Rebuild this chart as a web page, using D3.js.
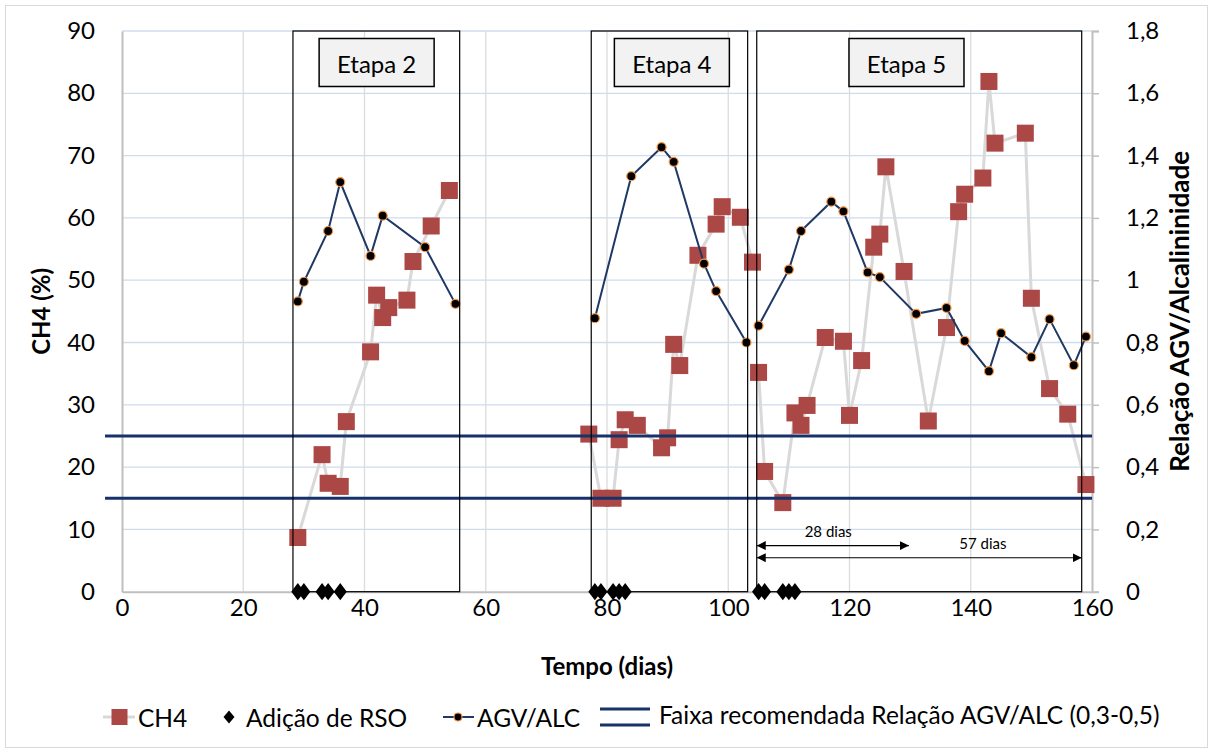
<!DOCTYPE html>
<html>
<head>
<meta charset="utf-8">
<script src="https://cdn.jsdelivr.net/npm/d3@7"></script>
<style>
  body { margin: 0; background: #fff; }
  svg { display: block; }
  text { font-family: Lato, "Open Sans", sans-serif; fill: #000; }
</style>
</head>
<body>
<svg id="chart" width="1213" height="753"></svg>
<script>
// CH4 (%) per stage: day of operation and measured methane content
const ch4Stage2Days = [29, 33, 34, 36, 37, 41, 42, 43, 44, 47, 48, 51, 54];
const ch4Stage2Values = [8.7, 22.0, 17.4, 16.9, 27.3, 38.5, 47.6, 44.0, 45.6, 46.8, 53.0, 58.7, 64.4];
const ch4Stage4Days = [77, 79, 81, 82, 83, 85, 89, 90, 91, 92, 95, 98, 99, 102, 104];
const ch4Stage4Values = [25.3, 15.0, 15.0, 24.4, 27.6, 26.7, 23.1, 24.7, 39.7, 36.3, 54.0, 59.0, 61.8, 60.1, 52.9];
const ch4Stage5Days = [105, 106, 109, 111, 112, 113, 116, 119, 120, 122, 124, 125, 126, 129, 133, 136, 138, 139, 142, 143, 144, 149, 150, 153, 156, 159];
const ch4Stage5Values = [35.2, 19.3, 14.3, 28.7, 26.7, 29.9, 40.8, 40.2, 28.3, 37.1, 55.3, 57.4, 68.2, 51.4, 27.4, 42.4, 61.0, 63.8, 66.4, 81.9, 72.0, 73.6, 47.1, 32.6, 28.5, 17.2];

// AGV/ALC ratio per stage
const agvStage2Days = [29, 30, 34, 36, 41, 43, 50, 55];
const agvStage2Values = [0.932, 0.995, 1.158, 1.315, 1.078, 1.207, 1.106, 0.924];
const agvStage4Days = [78, 84, 89, 91, 96, 98, 103];
const agvStage4Values = [0.878, 1.334, 1.427, 1.380, 1.053, 0.965, 0.800];
const agvStage5Days = [105, 110, 112, 117, 119, 123, 125, 131, 136, 139, 143, 145, 150, 153, 157, 159];
const agvStage5Values = [0.854, 1.034, 1.158, 1.252, 1.221, 1.025, 1.010, 0.892, 0.911, 0.805, 0.708, 0.830, 0.753, 0.875, 0.727, 0.819];

// Days on which solid waste (RSO) was added
const rsoDays = [29, 30, 33, 34, 36, 78, 79, 81, 82, 83, 105, 106, 109, 110, 111];

// Recommended AGV/ALC band
const faixaLimits = [0.3, 0.5];
const faixaDays = [-2.8, 160];

// Stages: name, day range, label centre (days)
const stageNames = ["Etapa 2", "Etapa 4", "Etapa 5"];
const stageStart = [28.2, 77.4, 104.7];
const stageEnd = [55.7, 103.2, 158.3];
const stageLabelAt = [42.0, 90.7, 129.4];

// Duration annotations in stage 5
const spanLabels = ["28 dias", "57 dias"];
const spanFrom = [104.7, 104.7];
const spanTo = [129.8, 158.3];
const spanLevel = [7.4, 5.45];   // CH4 units
const spanLabelAt = [116.5, 142.0];

// Axis ticks
const xTicks = [0, 20, 40, 60, 80, 100, 120, 140, 160];
const yLeftTicks = [0, 10, 20, 30, 40, 50, 60, 70, 80, 90];
const yRightTicks = [0, 0.2, 0.4, 0.6, 0.8, 1, 1.2, 1.4, 1.6, 1.8];

const C = {
  ch4: "#ab4845",
  ch4Line: "#d9d9d9",
  agv: "#1f3864",
  agvEdge: "#f79646",
  faixa: "#17326b",
  gridH: "#cfdcec",
  gridV: "#dcdcdc",
  axis: "#bfbfbf"
};

const svg = d3.select("#chart");
const W = 1213, H = 753;
const plot = { left: 122, right: 1092, top: 31, bottom: 591.7 };

const x = d3.scaleLinear().domain([0, 160]).range([plot.left, plot.right]);
const yL = d3.scaleLinear().domain([0, 90]).range([plot.bottom, plot.top]);
const yR = d3.scaleLinear().domain([0, 1.8]).range([plot.bottom, plot.top]);

// chart frame
svg.append("rect").attr("x", 5.5).attr("y", 5.5).attr("width", W - 11).attr("height", H - 11)
  .attr("fill", "#fff").attr("stroke", "#d9d9d9");

// gridlines
svg.append("g").selectAll("line").data(yLeftTicks.filter(d => d > 0)).join("line")
  .attr("x1", plot.left).attr("x2", plot.right)
  .attr("y1", d => yL(d)).attr("y2", d => yL(d))
  .attr("stroke", C.gridH).attr("stroke-width", 1.3);
svg.append("g").selectAll("line").data(xTicks.filter(d => d > 0 && d < 160)).join("line")
  .attr("x1", d => x(d)).attr("x2", d => x(d))
  .attr("y1", plot.top).attr("y2", plot.bottom)
  .attr("stroke", C.gridV).attr("stroke-width", 1.3);

// axes
const fmtComma = d => String(+d.toFixed(1)).replace(".", ",");
const tickFont = 24;

const axL = svg.append("g").attr("transform", `translate(${plot.left},0)`)
  .call(d3.axisLeft(yL).tickValues(yLeftTicks).tickSize(0).tickPadding(27).tickFormat(d3.format("d")));
const axB = svg.append("g").attr("transform", `translate(0,${plot.bottom})`)
  .call(d3.axisBottom(x).tickValues(xTicks).tickSize(0).tickPadding(7).tickFormat(d3.format("d")));
const axR = svg.append("g").attr("transform", `translate(${plot.right},0)`)
  .call(d3.axisRight(yR).tickValues(yRightTicks).tickSize(7).tickPadding(27).tickFormat(fmtComma));

[axL, axB, axR].forEach(g => {
  g.select(".domain").attr("stroke", C.axis).attr("stroke-width", 2);
  g.selectAll(".tick line").attr("stroke", C.axis).attr("stroke-width", 1.5);
  g.selectAll(".tick text").attr("font-size", tickFont).attr("font-family", "Lato, 'Open Sans', sans-serif").attr("fill", "#000");
});

// axis titles
svg.append("text").attr("transform", `translate(40,${(plot.top + plot.bottom) / 2}) rotate(-90)`)
  .attr("text-anchor", "middle").attr("dominant-baseline", "central")
  .attr("font-size", 24).attr("font-weight", 700).text("CH4 (%)");
svg.append("text").attr("transform", `translate(1179,${(plot.top + plot.bottom) / 2}) rotate(-90)`)
  .attr("text-anchor", "middle").attr("dominant-baseline", "central")
  .attr("font-size", 26).attr("font-weight", 700).text("Relação AGV/Alcalininidade");
svg.append("text").attr("x", (plot.left + plot.right) / 2).attr("y", 665)
  .attr("text-anchor", "middle").attr("dominant-baseline", "central")
  .attr("font-size", 24).attr("font-weight", 700).text("Tempo (dias)");

// CH4 series
const ch4Groups = [
  d3.zip(ch4Stage2Days, ch4Stage2Values),
  d3.zip(ch4Stage4Days, ch4Stage4Values),
  d3.zip(ch4Stage5Days, ch4Stage5Values)
];
const lineL = d3.line().x(d => x(d[0])).y(d => yL(d[1]));
const gCh4 = svg.append("g");
ch4Groups.forEach(grp => {
  gCh4.append("path").attr("d", lineL(grp)).attr("fill", "none")
    .attr("stroke", C.ch4Line).attr("stroke-width", 3);
});
const sq = 17;
gCh4.selectAll("rect").data(ch4Groups.flat()).join("rect")
  .attr("x", d => x(d[0]) - sq / 2).attr("y", d => yL(d[1]) - sq / 2)
  .attr("width", sq).attr("height", sq).attr("fill", C.ch4);

// RSO additions
const diamond = d3.symbol().type(d3.symbolDiamond).size(95);
svg.append("g").selectAll("path").data(rsoDays).join("path")
  .attr("transform", d => `translate(${x(d)},${yL(0)}) scale(1.25,0.95)`)
  .attr("d", diamond).attr("fill", "#000");

// AGV/ALC series
const agvGroups = [
  d3.zip(agvStage2Days, agvStage2Values),
  d3.zip(agvStage4Days, agvStage4Values),
  d3.zip(agvStage5Days, agvStage5Values)
];
const lineR = d3.line().x(d => x(d[0])).y(d => yR(d[1]));
const gAgv = svg.append("g");
agvGroups.forEach(grp => {
  gAgv.append("path").attr("d", lineR(grp)).attr("fill", "none")
    .attr("stroke", C.agv).attr("stroke-width", 2);
});
gAgv.selectAll("circle").data(agvGroups.flat()).join("circle")
  .attr("cx", d => x(d[0])).attr("cy", d => yR(d[1])).attr("r", 4.5)
  .attr("fill", "#000").attr("stroke", C.agvEdge).attr("stroke-width", 1.2);

// recommended band limits
svg.append("g").selectAll("line").data(faixaLimits).join("line")
  .attr("x1", x(faixaDays[0])).attr("x2", x(faixaDays[1]))
  .attr("y1", d => yR(d)).attr("y2", d => yR(d))
  .attr("stroke", C.faixa).attr("stroke-width", 3);

// stage boxes and labels
const gStage = svg.append("g");
stageNames.forEach((name, i) => {
  gStage.append("rect")
    .attr("x", x(stageStart[i])).attr("y", plot.top)
    .attr("width", x(stageEnd[i]) - x(stageStart[i])).attr("height", plot.bottom - plot.top)
    .attr("fill", "none").attr("stroke", "#000").attr("stroke-width", 1.2);
  const cx = x(stageLabelAt[i]);
  gStage.append("rect").attr("x", cx - 57.5).attr("y", 38.5).attr("width", 115).attr("height", 48)
    .attr("fill", "#f2f2f2").attr("stroke", "#000").attr("stroke-width", 1.5);
  gStage.append("text").attr("x", cx).attr("y", 63).attr("text-anchor", "middle")
    .attr("dominant-baseline", "central").attr("font-size", 24).text(name);
});

// duration arrows
svg.append("defs").append("marker").attr("id", "ah").attr("viewBox", "0 0 10 10")
  .attr("refX", 10).attr("refY", 5).attr("markerWidth", 9).attr("markerHeight", 9)
  .attr("markerUnits", "userSpaceOnUse").attr("orient", "auto-start-reverse")
  .append("path").attr("d", "M0,0L10,5L0,10Z").attr("fill", "#000");
const gSpan = svg.append("g");
spanLabels.forEach((lab, i) => {
  gSpan.append("line")
    .attr("x1", x(spanFrom[i])).attr("x2", x(spanTo[i]))
    .attr("y1", yL(spanLevel[i])).attr("y2", yL(spanLevel[i]))
    .attr("stroke", "#000").attr("stroke-width", 1.2)
    .attr("marker-start", "url(#ah)").attr("marker-end", "url(#ah)");
  gSpan.append("text").attr("x", x(spanLabelAt[i])).attr("y", yL(spanLevel[i]) - 9)
    .attr("text-anchor", "middle").attr("font-size", 15).text(lab);
});

// legend
const ly = 717;
const legFont = 24.5;
const gLeg = svg.append("g");
gLeg.append("line").attr("x1", 103).attr("x2", 135).attr("y1", ly).attr("y2", ly)
  .attr("stroke", C.ch4Line).attr("stroke-width", 3);
gLeg.append("rect").attr("x", 111.5).attr("y", ly - 8).attr("width", 16).attr("height", 16).attr("fill", C.ch4);
gLeg.append("text").attr("x", 138).attr("y", ly).attr("dominant-baseline", "central").attr("font-size", legFont).text("CH4");

gLeg.append("path").attr("transform", `translate(229,${ly}) scale(1.05,0.72)`).attr("d", diamond).attr("fill", "#000");
gLeg.append("text").attr("x", 246).attr("y", ly).attr("dominant-baseline", "central").attr("font-size", legFont).text("Adição de RSO");

gLeg.append("line").attr("x1", 443).attr("x2", 474).attr("y1", ly).attr("y2", ly)
  .attr("stroke", C.agv).attr("stroke-width", 2);
gLeg.append("circle").attr("cx", 458).attr("cy", ly).attr("r", 4)
  .attr("fill", "#000").attr("stroke", C.agvEdge).attr("stroke-width", 1.2);
gLeg.append("text").attr("x", 477).attr("y", ly).attr("dominant-baseline", "central").attr("font-size", legFont).text("AGV/ALC");

[ly - 8, ly + 8].forEach(yy => {
  gLeg.append("line").attr("x1", 600).attr("x2", 650).attr("y1", yy).attr("y2", yy)
    .attr("stroke", C.faixa).attr("stroke-width", 3);
});
gLeg.append("text").attr("x", 659).attr("y", ly - 3).attr("dominant-baseline", "central").attr("font-size", legFont)
  .text("Faixa recomendada Relação AGV/ALC (0,3-0,5)");
</script>
</body>
</html>
